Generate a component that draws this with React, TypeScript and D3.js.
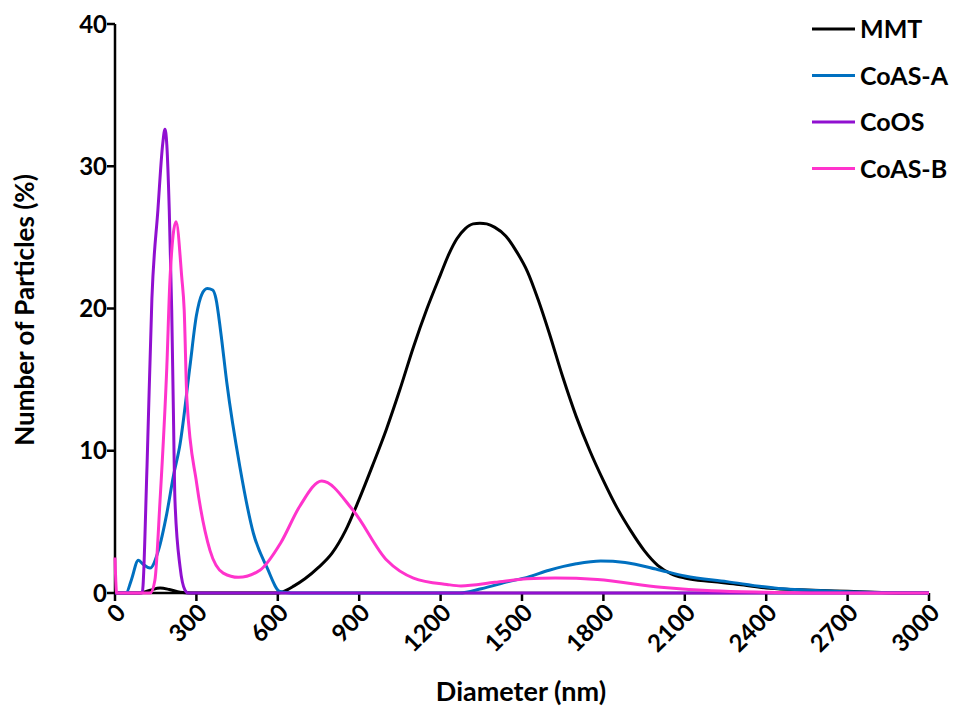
import React from "react";
import * as d3 from "d3";

// Particle size distributions: [diameter (nm), number of particles (%)]
const mmt: [number, number][] = [
  [0, 0], [90, 0], [130, 0.2], [166, 0.35], [200, 0.25], [240, 0.05], [280, 0],
  [600, 0], [620, 0.1], [660, 0.5], [700, 1.0], [750, 1.8], [800, 2.8], [850, 4.4],
  [900, 6.6], [950, 9.0], [1000, 11.5], [1050, 14.3], [1100, 17.3], [1150, 20.0],
  [1200, 22.4], [1230, 23.8], [1260, 24.9], [1290, 25.6], [1320, 25.95], [1345, 26.0],
  [1370, 25.95], [1400, 25.7], [1440, 25.1], [1480, 24.0], [1520, 22.6], [1560, 20.6],
  [1600, 18.3], [1650, 15.2], [1700, 12.4], [1750, 10.0], [1800, 7.9], [1850, 6.0],
  [1900, 4.4], [1950, 3.0], [2000, 1.95], [2050, 1.35], [2100, 1.05], [2200, 0.8],
  [2300, 0.6], [2400, 0.35], [2500, 0.25], [2600, 0.18], [2700, 0.12], [2800, 0.05],
  [2900, 0], [3000, 0],
];

const coasA: [number, number][] = [
  [0, 0], [41, 0], [60, 0.9], [86, 2.3], [105, 2.0], [129, 1.75], [160, 3.0],
  [191, 5.6], [215, 8.2], [240, 10.5], [276, 15.9], [300, 19.5], [320, 21.0],
  [340, 21.4], [360, 21.3], [372, 20.7], [390, 18.3], [412, 14.8], [460, 8.9],
  [510, 4.2], [560, 1.8], [608, 0.1], [650, 0], [1270, 0], [1350, 0.3], [1450, 0.8],
  [1519, 1.1], [1600, 1.6], [1700, 2.05], [1790, 2.25], [1880, 2.15], [2010, 1.6],
  [2100, 1.2], [2255, 0.8], [2430, 0.35], [2650, 0.12], [2800, 0.03], [3000, 0],
];

const coos: [number, number][] = [
  [0, 0], [100, 0], [118, 8.9], [136, 20.7], [158, 26.9], [176, 31.6], [184, 32.6],
  [191, 31.5], [200, 26.9], [209, 19.9], [215, 13.0], [221, 6.5], [240, 1.8],
  [258, 0.2], [270, 0], [3000, 0],
];

const coasB: [number, number][] = [
  [0, 2.5], [6, 0], [130, 0], [147, 0.9], [166, 6.5], [191, 15.9], [203, 22.2],
  [225, 26.1], [246, 22.2], [255, 19.9], [265, 13.6], [301, 7.7], [350, 3.0],
  [399, 1.4], [455, 1.1], [534, 1.6], [610, 3.5], [681, 6.1], [762, 7.87],
  [878, 5.8], [1002, 2.3], [1100, 1.05], [1223, 0.6], [1275, 0.5], [1400, 0.75],
  [1519, 1.0], [1622, 1.05], [1778, 0.95], [2012, 0.4], [2200, 0.15], [2400, 0.05],
  [2600, 0], [3000, 0],
];

const seriesNames = ["MMT", "CoAS-A", "CoOS", "CoAS-B"];
const seriesData = [mmt, coasA, coos, coasB];
const seriesColors = ["#000000", "#0070C0", "#9010D0", "#FF33CC"];

const xTicks = [0, 300, 600, 900, 1200, 1500, 1800, 2100, 2400, 2700, 3000];
const yTicks = [0, 10, 20, 30, 40];

const W = 954;
const H = 716;
const FONT = "Lato, 'Open Sans', sans-serif";

export default function App() {
  const x = d3.scaleLinear().domain([0, 3000]).range([115, 929]);
  const y = d3.scaleLinear().domain([0, 40]).range([593, 24]);
  const line = d3
    .line<[number, number]>()
    .x((d) => x(d[0]))
    .y((d) => y(d[1]))
    .curve(d3.curveMonotoneX);

  return (
    <svg
      width={W}
      height={H}
      viewBox={`0 0 ${W} ${H}`}
      style={{ position: "fixed", left: 0, top: 0, background: "#fff" }}
      fontFamily={FONT}
    >
      <rect width={W} height={H} fill="#fff" />

      {/* axes */}
      <line x1={x(0)} x2={x(0)} y1={y(40)} y2={y(0)} stroke="#000" strokeWidth={2.5} />
      <line x1={x(0)} x2={x(3000)} y1={y(0)} y2={y(0)} stroke="#000" strokeWidth={2.5} />
      {yTicks.map((t) => (
        <g key={`yt${t}`}>
          <line x1={x(0) - 8} x2={x(0)} y1={y(t)} y2={y(t)} stroke="#000" strokeWidth={2.5} />
          <text
            x={x(0) - 8}
            y={y(t)}
            dy="0.36em"
            textAnchor="end"
            fontSize={24}
            fontWeight={700}
          >
            {t}
          </text>
        </g>
      ))}
      {xTicks.map((t) => (
        <g key={`xt${t}`}>
          <line x1={x(t)} x2={x(t)} y1={y(0)} y2={y(0) + 8} stroke="#000" strokeWidth={2.5} />
          <text
            transform={`translate(${x(t) + 6},${y(0) + 15}) rotate(-45)`}
            dy="0.36em"
            textAnchor="end"
            fontSize={24}
            fontWeight={700}
          >
            {t}
          </text>
        </g>
      ))}

      {/* series */}
      {seriesData.map((data, i) => (
        <path
          key={seriesNames[i]}
          d={line(data) ?? ""}
          fill="none"
          stroke={seriesColors[i]}
          strokeWidth={3}
          strokeLinejoin="round"
        />
      ))}

      {/* axis titles */}
      <text x={521} y={701} textAnchor="middle" fontSize={27} fontWeight={700}>
        Diameter (nm)
      </text>
      <text
        transform={`translate(34,310) rotate(-90)`}
        textAnchor="middle"
        fontSize={26}
        fontWeight={700}
      >
        Number of Particles (%)
      </text>

      {/* legend */}
      {seriesNames.map((name, i) => {
        const ly = 29 + i * 46.5;
        return (
          <g key={`lg${name}`}>
            <line x1={812} x2={855} y1={ly} y2={ly} stroke={seriesColors[i]} strokeWidth={3} />
            <text x={860} y={ly} dy="0.36em" fontSize={25} fontWeight={700}>
              {name}
            </text>
          </g>
        );
      })}
    </svg>
  );
}
